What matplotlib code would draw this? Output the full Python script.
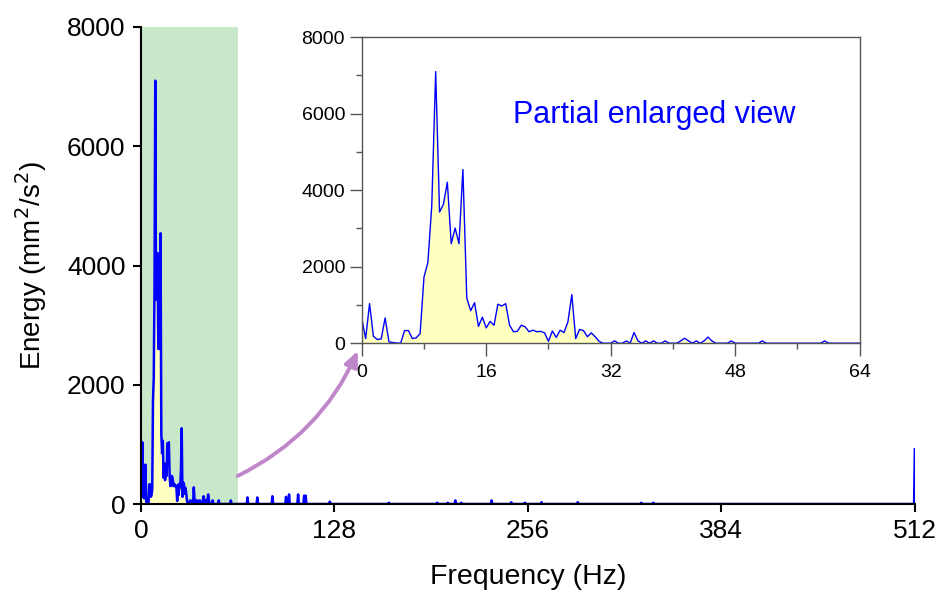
import numpy as np
import matplotlib
matplotlib.use("Agg")
import matplotlib.pyplot as plt
from matplotlib.ticker import MultipleLocator

plt.rcParams['font.family'] = ['Liberation Sans', 'DejaVu Sans']

# spectrum values, 0.5 Hz resolution, 0 - 63.5 Hz
step = 0.5
low_energy = [
    650, 120, 1035, 180, 95, 113, 660, 35, 17, 5,
    0, 330, 330, 120, 140, 250, 1730, 2113, 3600, 7100,
    3430, 3630, 4210, 2600, 3010, 2600, 4540, 1180, 850, 1060,
    440, 680, 400, 570, 470, 1020, 970, 1035, 470, 300,
    310, 470, 430, 300, 340, 300, 310, 270, 50, 320,
    150, 340, 280, 560, 1270, 120, 360, 330, 170, 270,
    170, 50, 0, 0, 0, 60, 0, 0, 60, 0,
    280, 60, 0, 60, 0, 60, 0, 0, 60, 0,
    0, 0, 60, 130, 60, 0, 60, 0, 60, 160,
    60, 0, 0, 0, 0, 60, 0, 0, 0, 0,
    0, 0, 0, 60, 0, 0, 0, 0, 0, 0,
    0, 0, 0, 0, 0, 0, 0, 0, 0, 60,
    0, 0, 0, 0, 0, 0, 0, 0,
]

# isolated small peaks above 64 Hz (frequency, energy)
high_freqs = [70.5, 77, 87, 96, 98, 104, 108, 109, 125, 164, 196, 203,
              208, 212, 232, 245, 254, 265, 289, 331, 339, 512]
high_energy = [110, 110, 130, 120, 160, 160, 140, 140, 40, 20, 20, 20,
               60, 20, 60, 30, 20, 30, 30, 20, 20, 920]

freq = np.arange(0, 512 + step, step)
energy = np.zeros_like(freq)
energy[:len(low_energy)] = low_energy
for f, e in zip(high_freqs, high_energy):
    energy[int(round(f / step))] = e

fig = plt.figure(figsize=(9.52, 6), dpi=100)

# main spectrum
ax = fig.add_axes([0.148, 0.16, 0.813, 0.795])
ax.axvspan(0, 64, color='#c9e7c9', lw=0, zorder=0)
ax.fill_between(freq, energy, color='#ffffc0', lw=0, zorder=1)
ax.plot(freq, energy, color='#0000ff', lw=1.8, zorder=2)
ax.set_xlim(0, 512)
ax.set_ylim(0, 8000)
ax.set_xticks([0, 128, 256, 384, 512])
ax.set_yticks([0, 2000, 4000, 6000, 8000])
for s in ['top', 'right']:
    ax.spines[s].set_visible(False)
for s in ['left', 'bottom']:
    ax.spines[s].set_linewidth(1.5)
ax.tick_params(direction='out', length=6, width=1.5, labelsize=19, pad=5)
ax.set_xlabel('Frequency (Hz)', fontsize=20.5, labelpad=15)
ax.set_ylabel('Energy (mm$^2$/s$^2$)', fontsize=20, labelpad=13)

# partial enlarged view
ins = fig.add_axes([0.380, 0.428, 0.523, 0.51])
ins.fill_between(freq, energy, color='#ffffc0', lw=0)
ins.plot(freq, energy, color='#0000ff', lw=1.0)
ins.set_xlim(0, 64)
ins.set_ylim(0, 8000)
ins.xaxis.set_major_locator(MultipleLocator(16))
ins.xaxis.set_minor_locator(MultipleLocator(8))
ins.yaxis.set_major_locator(MultipleLocator(2000))
ins.yaxis.set_minor_locator(MultipleLocator(1000))
for s in ins.spines.values():
    s.set_color('#555555')
    s.set_linewidth(1.0)
ins.tick_params(which='major', direction='out', length=9, width=1, color='#555555',
                labelsize=14, pad=6)
ins.tick_params(which='minor', direction='out', length=4.5, width=1, color='#555555')
ins.tick_params(axis='y', which='major', pad=3)
ins.text(0.303, 0.745, 'Partial enlarged view', transform=ins.transAxes,
         color='#0000ff', fontsize=22, va='center', ha='left')

# arrow from the shaded band to the inset
ax.annotate('', xy=(-0.5, -200), xycoords=ins.transData,
            xytext=(64, 470), textcoords=ax.transData,
            arrowprops=dict(arrowstyle='-|>,head_length=0.9,head_width=0.4',
                            color='#bf86c9', lw=2.8,
                            connectionstyle='arc3,rad=0.18',
                            shrinkA=0, shrinkB=0))

fig.savefig('out.png', dpi=100)
